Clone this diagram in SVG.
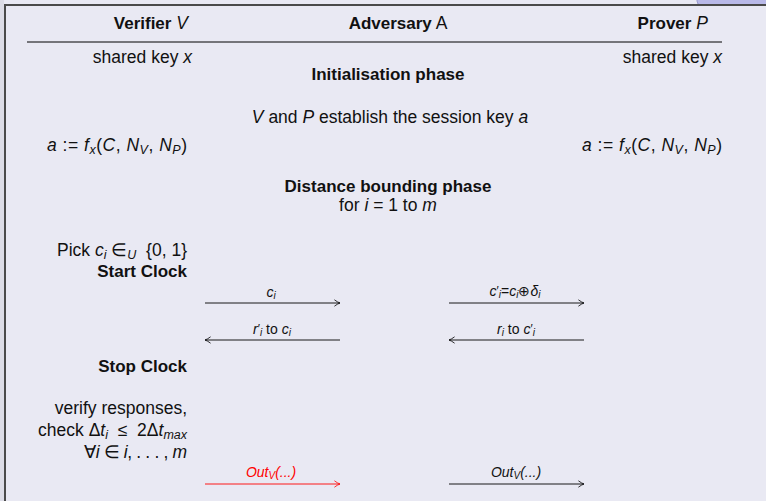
<svg xmlns="http://www.w3.org/2000/svg" width="766" height="501" viewBox="0 0 766 501">
<defs>
<marker id="ahk" viewBox="0 0 10 10" refX="9" refY="5" markerWidth="8" markerHeight="8" markerUnits="userSpaceOnUse" orient="auto">
<path d="M2,1 Q6,4 9,5 Q6,6 2,9" fill="none" stroke="#000" stroke-width="1"/>
</marker>
<marker id="ahr" viewBox="0 0 10 10" refX="9" refY="5" markerWidth="8" markerHeight="8" markerUnits="userSpaceOnUse" orient="auto">
<path d="M2,1 Q6,4 9,5 Q6,6 2,9" fill="none" stroke="#f00" stroke-width="1"/>
</marker>
</defs>
<style>
text{font-family:"Liberation Sans",Arial,sans-serif;font-size:17.5px;fill:#111}
.b{font-weight:bold;font-size:17px}
.i{font-style:italic}
.s{font-size:14px}
.sub{font-size:12.5px}
.ss{font-size:10px}
.pr{font-size:12px}
.e{text-anchor:end}
.m{text-anchor:middle}
.red{fill:#f00}
.ln{stroke:#000;stroke-width:0.9;fill:none}
</style>
<rect x="0" y="0" width="766" height="501" fill="#e9e9f3"/>
<rect x="0" y="0" width="4" height="501" fill="#dcdce6"/>
<rect x="697" y="-6" width="75" height="11" rx="4" fill="#b9b9e8" stroke="#9a9acc" stroke-width="1"/>
<path d="M5,501 V5 H766" fill="none" stroke="#4a4a4a" stroke-width="2"/>

<g id="header">
<text x="188" y="29" class="e"><tspan class="b">Verifier</tspan> <tspan class="i">V</tspan></text>
<text x="398" y="29" class="m"><tspan class="b">Adversary</tspan> A</text>
<text x="708" y="29" class="e"><tspan class="b">Prover</tspan> <tspan class="i">P</tspan></text>
<line x1="27" y1="42" x2="722" y2="42" stroke="#000" stroke-width="1"/>
</g>

<g id="verifier">
<text x="192" y="63" class="e">shared key <tspan class="i">x</tspan></text>
<text x="187" y="151" class="e" textLength="140" lengthAdjust="spacing"><tspan class="i">a</tspan> := <tspan class="i">f</tspan><tspan class="i sub" dy="3">x</tspan><tspan dy="-3">(</tspan><tspan class="i">C</tspan>, <tspan class="i">N</tspan><tspan class="i sub" dy="3">V</tspan><tspan dy="-3">, </tspan><tspan class="i">N</tspan><tspan class="i sub" dy="3">P</tspan><tspan dy="-3">)</tspan></text>
<text x="187" y="256" class="e" xml:space="preserve">Pick <tspan class="i">c</tspan><tspan class="i sub" dy="3">i</tspan><tspan dy="-3"> ∈</tspan><tspan class="i sub" dy="3">U</tspan><tspan dy="-3">  {0, 1}</tspan></text>
<text x="187" y="277" class="e b">Start Clock</text>
<text x="187" y="372" class="e b">Stop Clock</text>
<text x="187" y="414" class="e">verify responses,</text>
<text x="187" y="436" class="e" xml:space="preserve">check Δ<tspan class="i">t</tspan><tspan class="i sub" dy="3">i</tspan><tspan dy="-3">  ≤  2Δ</tspan><tspan class="i">t</tspan><tspan class="i sub" dy="3">max</tspan></text>
<text x="187" y="458" class="e" textLength="103" lengthAdjust="spacing">∀<tspan class="i">i</tspan> ∈ <tspan class="i">i</tspan>, . . . , <tspan class="i">m</tspan></text>
</g>

<g id="prover">
<text x="722" y="63" class="e">shared key <tspan class="i">x</tspan></text>
<text x="722" y="151" class="e" textLength="140" lengthAdjust="spacing"><tspan class="i">a</tspan> := <tspan class="i">f</tspan><tspan class="i sub" dy="3">x</tspan><tspan dy="-3">(</tspan><tspan class="i">C</tspan>, <tspan class="i">N</tspan><tspan class="i sub" dy="3">V</tspan><tspan dy="-3">, </tspan><tspan class="i">N</tspan><tspan class="i sub" dy="3">P</tspan><tspan dy="-3">)</tspan></text>
</g>

<g id="phases">
<text x="388" y="80" class="m b">Initialisation phase</text>
<text x="390" y="123" class="m"><tspan class="i">V</tspan> and <tspan class="i">P</tspan> establish the session key <tspan class="i">a</tspan></text>
<text x="388" y="192" class="m b">Distance bounding phase</text>
<text x="388" y="211" class="m">for <tspan class="i">i</tspan> = 1 to <tspan class="i">m</tspan></text>
</g>

<g id="connectors">
<line x1="205" y1="303" x2="340" y2="303" class="ln" marker-end="url(#ahk)"/>
<text x="271" y="297" class="m s"><tspan class="i">c</tspan><tspan class="ss i" dy="2">i</tspan></text>
<line x1="449" y1="303" x2="584" y2="303" class="ln" marker-end="url(#ahk)"/>
<text x="515" y="296" class="m s"><tspan class="i">c</tspan><tspan class="pr" dy="-1">′</tspan><tspan class="ss i" dy="3">i</tspan><tspan dy="-2">=</tspan><tspan class="i">c</tspan><tspan class="ss i" dy="2">i</tspan><tspan dy="-2">⊕</tspan><tspan class="i">δ</tspan><tspan class="ss i" dy="2">i</tspan></text>
<line x1="340" y1="340" x2="205" y2="340" class="ln" marker-end="url(#ahk)"/>
<text x="272" y="334" class="m s"><tspan class="i">r</tspan><tspan class="pr" dy="-1">′</tspan><tspan class="ss i" dy="3">i</tspan><tspan dy="-2"> to </tspan><tspan class="i">c</tspan><tspan class="ss i" dy="2">i</tspan></text>
<line x1="584" y1="340" x2="449" y2="340" class="ln" marker-end="url(#ahk)"/>
<text x="516" y="334" class="m s"><tspan class="i">r</tspan><tspan class="ss i" dy="2">i</tspan><tspan dy="-2"> to </tspan><tspan class="i">c</tspan><tspan class="pr" dy="-1">′</tspan><tspan class="ss i" dy="3">i</tspan></text>
<line x1="205" y1="484" x2="340" y2="484" stroke="#f00" stroke-width="0.9" marker-end="url(#ahr)"/>
<text x="271" y="477" class="m s i red">Out<tspan class="ss" dy="2">V</tspan><tspan dy="-2">(...)</tspan></text>
<line x1="449" y1="484" x2="584" y2="484" class="ln" marker-end="url(#ahk)"/>
<text x="516" y="477" class="m s i">Out<tspan class="ss" dy="2">V</tspan><tspan dy="-2">(...)</tspan></text>
</g>
</svg>
